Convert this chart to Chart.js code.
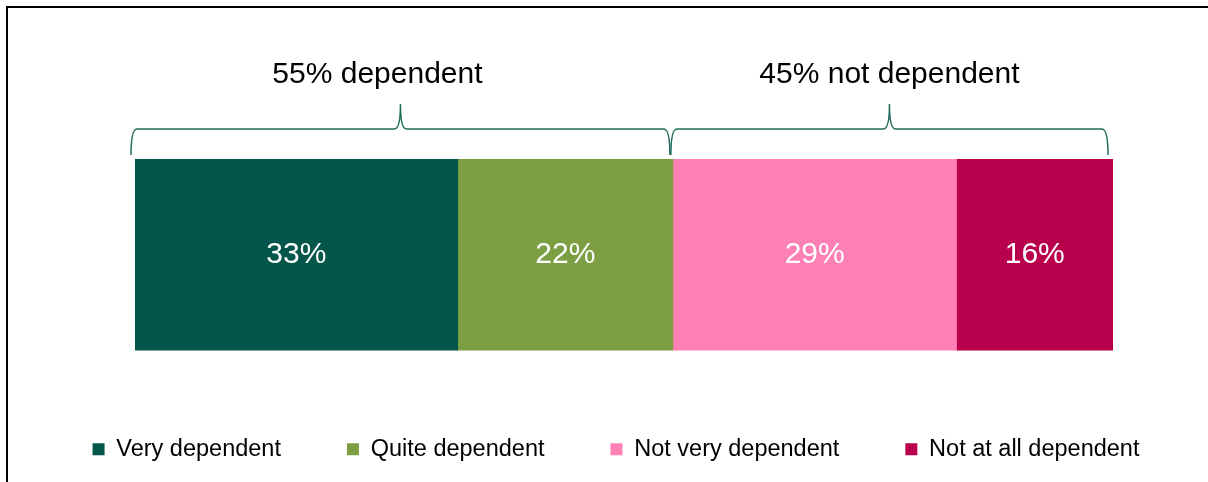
<!DOCTYPE html>
<html>
<head>
<meta charset="utf-8">
<script src="https://cdn.jsdelivr.net/npm/chart.js@4/dist/chart.umd.min.js"></script>
<style>
  html, body { margin: 0; padding: 0; background: #fff; }
  #wrap { position: relative; width: 1208px; height: 482px; }
  #frame { position: absolute; left: 6px; top: 6px; right: 0; bottom: 0;
           border-top: 2px solid #000; border-left: 2px solid #000; pointer-events: none; }
</style>
</head>
<body>
<div id="wrap">
  <canvas id="dependencyChart" width="1208" height="482"></canvas>
  <div id="frame"></div>
</div>
<script>
const categories = ["All"]
const seriesNames = ["Very dependent", "Quite dependent", "Not very dependent", "Not at all dependent"]
const values = [33, 22, 29, 16]
const colors = ["#035649", "#7d9f44", "#ff80b5", "#b9004d"]
const groupLabels = ["55% dependent", "45% not dependent"]
const groupRanges = [[0, 55], [55, 100]]

const FONT = "'Liberation Sans', Arial, sans-serif"
const labelShift = [-23, 0]

// white % labels in the middle of every segment
const segmentLabels = {
    id: "segmentLabels",
    afterDatasetsDraw(chart) {
        const c = chart.ctx
        c.save()
        c.fillStyle = "#fff"
        c.font = "30px " + FONT
        c.textAlign = "center"
        c.textBaseline = "middle"
        chart.data.datasets.forEach((ds, i) => {
            const bar = chart.getDatasetMeta(i).data[0]
            c.fillText(ds.data[0] + "%", (bar.x + bar.base) / 2, bar.y)
        })
        c.restore()
    }
}

// curly brackets above the bar with group totals
const groupBrackets = {
    id: "groupBrackets",
    afterDraw(chart) {
        const c = chart.ctx
        const xs = chart.scales.x
        const yLine = 129, yEnd = 155, yTip = 104
        c.save()
        c.strokeStyle = "#226b5c"
        c.lineWidth = 1.5
        groupRanges.forEach((r, i) => {
            const x0 = xs.getPixelForValue(r[0]) - (i === 0 ? 4 : 2)
            const x1 = xs.getPixelForValue(r[1]) - (i === 0 ? 3 : 5)
            const xm = (x0 + x1) / 2
            c.beginPath()
            c.moveTo(x0, yEnd)
            c.quadraticCurveTo(x0, yLine, x0 + 6, yLine)
            c.lineTo(xm - 6, yLine)
            c.quadraticCurveTo(xm, yLine, xm, yTip)
            c.quadraticCurveTo(xm, yLine, xm + 6, yLine)
            c.lineTo(x1 - 6, yLine)
            c.quadraticCurveTo(x1, yLine, x1, yEnd)
            c.stroke()

            c.fillStyle = "#000"
            c.font = "30px " + FONT
            c.textAlign = "center"
            c.textBaseline = "middle"
            c.fillText(groupLabels[i], xm + labelShift[i], 75)
        })
        c.restore()
    }
}

const hiddenAxis = (pos, w) => ({
    position: pos,
    stacked: true,
    grid: { display: false },
    ticks: { display: false },
    border: { display: false },
    afterFit(scale) { scale.width = w }
})

const ctx = document.getElementById("dependencyChart")

new Chart(ctx, {
    type: "bar",
    data: {
        labels: categories,
        datasets: seriesNames.map((name, i) => ({
            label: name,
            data: [values[i]],
            backgroundColor: colors[i],
            borderWidth: 0,
            barThickness: 191
        }))
    },
    options: {
        indexAxis: "y",
        responsive: false,
        animation: false,
        layout: { padding: { left: 24, right: 0, top: 138, bottom: 11 } },
        scales: {
            x: { stacked: true, min: 0, max: 100, display: false },
            y: hiddenAxis("left", 111),
            yRight: Object.assign({ type: "category", axis: "y" }, hiddenAxis("right", 95))
        },
        plugins: {
            tooltip: { enabled: false },
            legend: {
                position: "bottom",
                labels: {
                    boxWidth: 12,
                    boxHeight: 12,
                    padding: 66,
                    color: "#000",
                    font: { size: 23.5, family: FONT }
                }
            }
        }
    },
    plugins: [segmentLabels, groupBrackets]
})
</script>
</body>
</html>
